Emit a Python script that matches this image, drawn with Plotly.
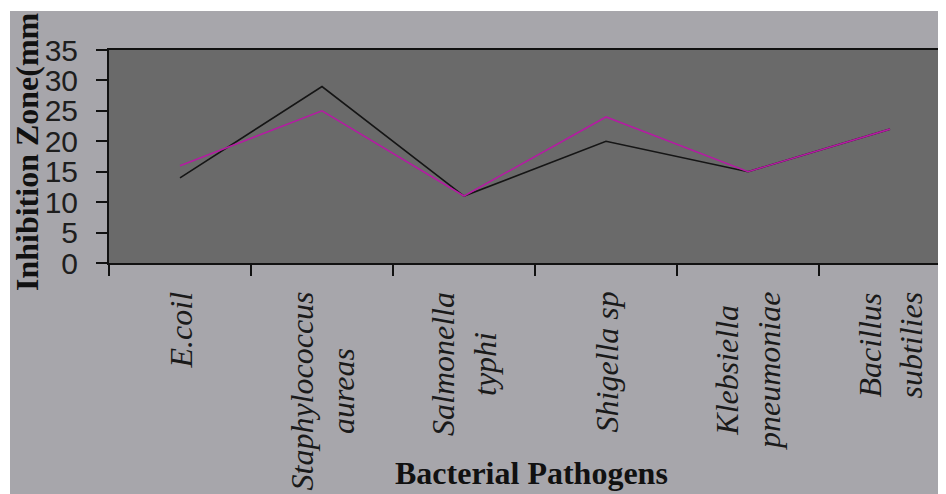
import plotly.graph_objects as go

categories = ["E.coil", "Staphylococcus aureas", "Salmonella typhi",
              "Shigella sp", "Klebsiella pneumoniae", "Bacillus subtilies"]
tick_labels = ["E.coil", "Staphylococcus<br>aureas", "Salmonella<br>typhi",
               "Shigella sp", "Klebsiella<br>pneumoniae", "Bacillus<br>subtilies"]
series_black = [14, 29, 11, 20, 15, 22]
series_magenta = [16, 25, 11, 24, 15, 22]
y_ticks = [0, 5, 10, 15, 20, 25, 30, 35]

# the page body has an 8px margin; the figure is sized to fill the rest
OFF = 8
W, H = 946 - OFF, 494 - OFF
L, R, T, B = 109 - OFF, 946 - OFF, 50 - OFF, 263 - OFF
pw, ph = R - L, B - T

def px_x(px):
    return (px - OFF - L) / pw

def px_y(py):
    return (B - (py - OFF)) / ph

fig = go.Figure()
fig.add_trace(go.Scatter(x=categories, y=series_black, mode="lines",
                         line=dict(color="#151515", width=1.6), showlegend=False))
fig.add_trace(go.Scatter(x=categories, y=series_magenta, mode="lines",
                         line=dict(color="#b41ca2", width=1.6), showlegend=False))

annotations = []
for cat, lab in zip(categories, tick_labels):
    annotations.append(dict(x=cat, xref="x", y=px_y(290), yref="paper",
                            text="<i>" + lab + "</i>", showarrow=False,
                            textangle=-90, xanchor="center", yanchor="top",
                            align="center",
                            font=dict(family="Liberation Serif", size=32, color="#1a1a1a")))
annotations.append(dict(x=px_x(531), xref="paper", y=px_y(473), yref="paper",
                        text="<b>Bacterial Pathogens</b>", showarrow=False,
                        xanchor="center", yanchor="middle",
                        font=dict(family="Liberation Serif", size=32, color="#111111")))
annotations.append(dict(x=px_x(27), xref="paper", y=px_y(152), yref="paper",
                        text="<b>Inhibition Zone(mm</b>", showarrow=False,
                        textangle=-90, xanchor="center", yanchor="middle",
                        font=dict(family="Liberation Serif", size=32, color="#111111")))

shapes = [
    dict(type="rect", xref="paper", yref="paper", x0=px_x(OFF), x1=px_x(946),
         y0=px_y(11), y1=px_y(OFF), fillcolor="white", line=dict(width=0), layer="above"),
    dict(type="rect", xref="paper", yref="paper", x0=px_x(OFF), x1=px_x(10),
         y0=px_y(494), y1=px_y(OFF), fillcolor="white", line=dict(width=0), layer="above"),
]

fig.update_layout(
    width=W, height=H,
    margin=dict(l=L, r=W - R, t=T, b=H - B, pad=0),
    paper_bgcolor="#a7a6ab", plot_bgcolor="#6a6a6a",
    annotations=annotations, shapes=shapes,
    xaxis=dict(type="category", range=[-0.5, -0.5 + (R - L) / 142.0],
               showticklabels=False, tickson="boundaries", ticks="outside",
               ticklen=11, tickwidth=2, tickcolor="#111111",
               showline=True, linecolor="#111111", linewidth=2, mirror=True,
               showgrid=False, zeroline=False, fixedrange=True),
    yaxis=dict(range=[0, 35], tickvals=y_ticks, ticks="outside", ticklen=11,
               tickwidth=2, tickcolor="#111111", showline=True, linecolor="#111111",
               linewidth=2, showgrid=False, zeroline=False, ticklabelstandoff=12,
               tickfont=dict(family="Liberation Sans", size=30, color="#1e1e1e")),
)

fig.write_html("out.html")
